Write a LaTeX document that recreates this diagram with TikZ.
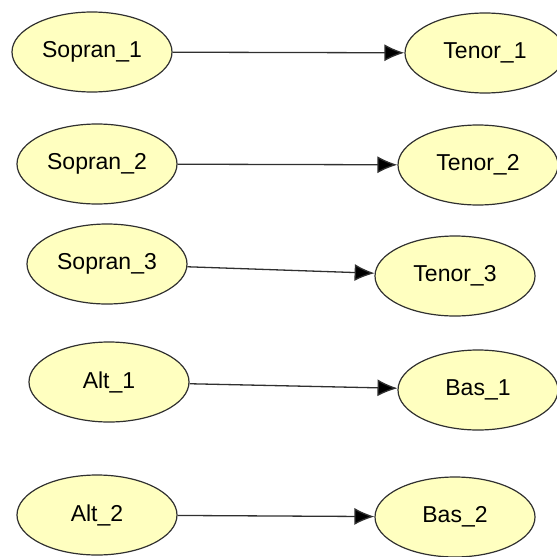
\documentclass[tikz,border=0pt]{standalone}
\usepackage{fontspec}
\setmainfont{Liberation Sans}
\usepackage{tikz}
\usetikzlibrary{shapes.geometric,arrows.meta}
\definecolor{voicefill}{HTML}{FFFFC0}
\definecolor{voiceline}{HTML}{303030}
\tikzset{
    voice/.style={draw=voiceline, fill=voicefill, ellipse, line width=1.2pt, inner sep=0pt, minimum width=160pt, minimum height=80pt, font=\fontsize{23}{27}\selectfont},
    link/.style={draw=voiceline, line width=1.3pt, -{Latex[length=20pt,width=17pt,fill=black]}}}

\begin{document}
\begin{tikzpicture}[x=1pt,y=-1pt]
\useasboundingbox (0,0) rectangle (557,557);
% left column
\node[voice] (s1) at (92,52) {Sopran\_1};
\node[voice] (s2) at (97,164) {Sopran\_2};
\node[voice] (s3) at (107,264) {Sopran\_3};
\node[voice] (a1) at (109,382) {Alt\_1};
\node[voice] (a2) at (97,515) {Alt\_2};
% right column
\node[voice] (t1) at (485,53) {Tenor\_1};
\node[voice] (t2) at (478,165) {Tenor\_2};
\node[voice] (t3) at (455,276) {Tenor\_3};
\node[voice] (b1) at (478,390) {Bas\_1};
\node[voice] (b2) at (455,517) {Bas\_2};

\draw[link] (s1) -- (t1);
\draw[link] (s2) -- (t2);
\draw[link] (s3) -- (t3);
\draw[link] (a1) -- (b1);
\draw[link] (a2) -- (b2);
\end{tikzpicture}
\end{document}
